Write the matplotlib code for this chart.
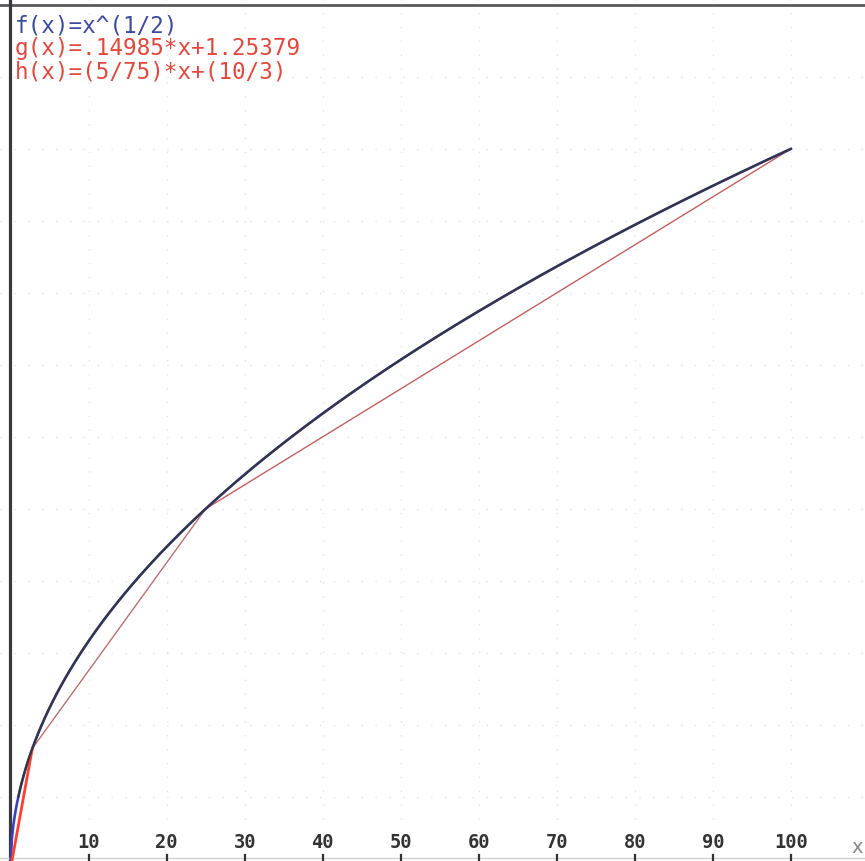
import numpy as np
import matplotlib
matplotlib.use("Agg")
import matplotlib.pyplot as plt

# ---- data (from the chart's own formulas) ----
f_label = "f(x)=x^(1/2)"
g_label = "g(x)=.14985*x+1.25379"
h_label = "h(x)=(5/75)*x+(10/3)"
g_slope, g_intercept = 0.14985, 1.25379
h_slope, h_intercept = 5 / 75, 10 / 3
x_knee1 = 2.8          # where g meets f
x_knee2 = 25.0         # where g meets h (and f)
x_end = 100.0
x_ticks = [10, 20, 30, 40, 50, 60, 70, 80, 90, 100]
y_grid = [1, 2, 3, 4, 5, 6, 7, 8, 9, 10, 11]

xs = np.linspace(0, x_end, 600)
fs = np.sqrt(xs)

fig = plt.figure(figsize=(8.65, 8.62), dpi=100)
ax = fig.add_axes([0, 0, 1, 1])
ax.set_xlim(-1.345, 109.48)
ax.set_ylim(0.11, 12.08)
ax.axis("off")

# grid (very faint, sparse dots)
for gx in x_ticks:
    ax.axvline(gx, color="#e4e4e4", lw=1, ls=(0, (1, 9)), zorder=0)
for gy in y_grid:
    ax.axhline(gy, color="#e4e4e4", lw=1, ls=(0, (1, 9)), zorder=0)

# frame lines
ax.axhline(12.0, color="#5a5a5a", lw=2.0, zorder=1)
ax.axvline(0, color="#38383f", lw=2.3, zorder=1)
ax.plot([0, 1], [0.003, 0.003], transform=ax.transAxes, color="#d0d0d0", lw=1)

# f curve: blue underneath, dark on top
ax.plot(xs, fs, color="#3a44b8", lw=1.9, zorder=3, solid_capstyle="round")
m = xs >= 1.0
ax.plot(xs[m], fs[m], color="#35353f", lw=1.5, zorder=4)

# initial red segment from origin to first knee
ax.plot([0, x_knee1], [0, np.sqrt(x_knee1)], color="#ff4030", lw=2.0, zorder=3)
# g between knees
gx_ = np.array([x_knee1, x_knee2])
ax.plot(gx_, g_slope * gx_ + g_intercept, color="#b87070", lw=1.0, zorder=2)
# h from 25 to 100
hx_ = np.array([x_knee2, x_end])
ax.plot(hx_, h_slope * hx_ + h_intercept, color="#c06060", lw=1.0, zorder=2)

# legend-like formulas
mono = "DejaVu Sans Mono"
tx = fig.transFigure
fs_txt = 16.3
ax.text(15 / 865, 1 - 26 / 862, f_label, transform=tx, family=mono, fontsize=fs_txt,
        color="#3c4a9c", va="center", ha="left")
ax.text(15 / 865, 1 - 49 / 862, g_label, transform=tx, family=mono, fontsize=fs_txt,
        color="#e0483e", va="center", ha="left")
ax.text(15 / 865, 1 - 72 / 862, h_label, transform=tx, family=mono, fontsize=fs_txt,
        color="#e0483e", va="center", ha="left")

# x tick labels and tick marks at bottom
blend = matplotlib.transforms.blended_transform_factory(ax.transData, fig.transFigure)
for t in x_ticks:
    ax.text(t, 1 - 843 / 862, str(t), transform=blend, family=mono, fontweight="bold",
            fontsize=13.5, color="#333333", ha="center", va="center")
    ax.plot([t, t], [0, 6 / 862], transform=blend, color="#333333", lw=1.6)
ax.text(857 / 865, 1 - 848 / 862, "x", transform=tx, family="DejaVu Sans",
        fontsize=14, color="#888888", ha="center", va="center")

fig.savefig("out.png", dpi=100)
